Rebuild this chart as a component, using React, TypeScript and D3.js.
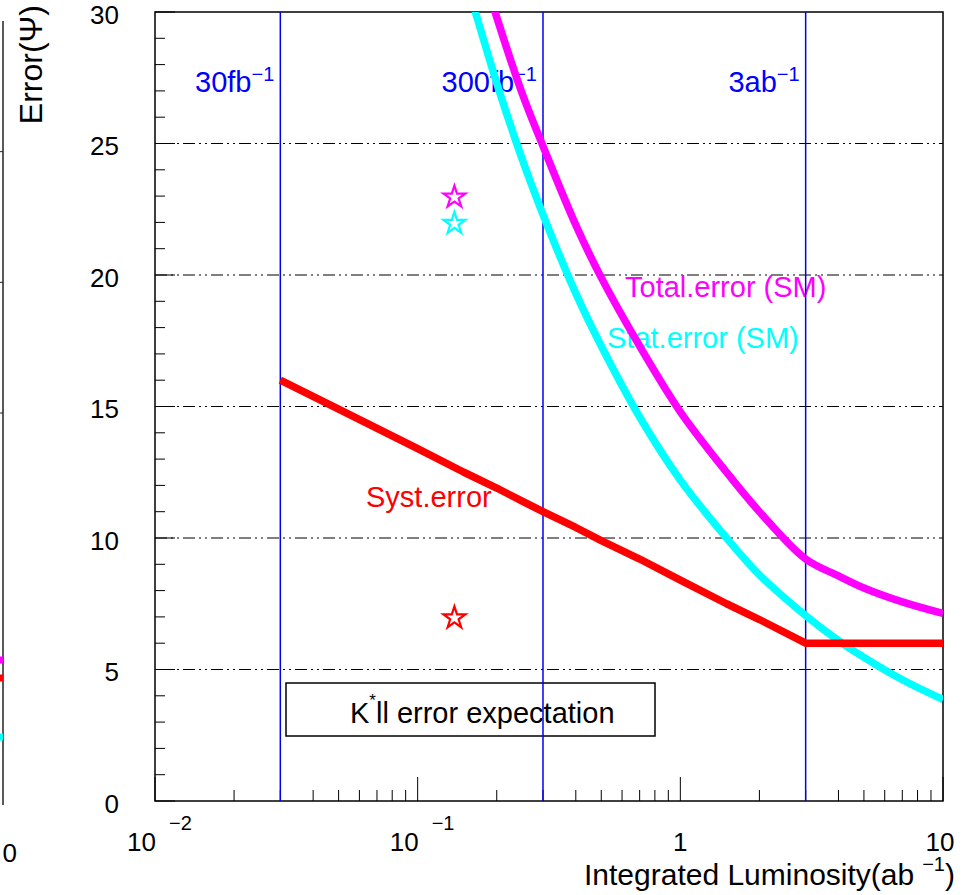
import * as d3 from "d3";

// luminosity points (ab^-1) and errors
const systLumi = [0.03, 0.05, 0.1, 0.15, 0.2, 0.25, 0.3, 0.4, 0.5, 0.7, 1, 1.5, 2, 3, 4, 5, 7, 10];
const systErr = [16, 14.9, 13.4, 12.5, 11.9, 11.4, 11.0, 10.4, 9.9, 9.2, 8.4, 7.5, 6.9, 6.0, 6.0, 6.0, 6.0, 6.0];

const smLumi = [0.15, 0.2, 0.25, 0.3, 0.4, 0.5, 0.7, 1, 1.5, 2, 3, 4, 5, 7, 10];
const statErr = [31.5, 27.3, 24.4, 22.3, 19.3, 17.3, 14.6, 12.2, 10.0, 8.6, 7.05, 6.1, 5.46, 4.61, 3.86];
const totalErr = [33.9, 29.8, 26.9, 24.9, 21.9, 19.9, 17.3, 14.8, 12.5, 11.0, 9.2, 8.56, 8.1, 7.57, 7.13];

// measured points (open stars)
const starLumi = 0.138;
const starValues = [23, 22, 7];
const starColors = ["#ff00ff", "#00ffff", "#ff0000"];

// luminosity milestones
const markLumi = [0.03, 0.3, 3];
const markLabels = ["30fb", "300fb", "3ab"];

const yMajor = [0, 5, 10, 15, 20, 25, 30];
const gridValues = [5, 10, 15, 20, 25];

// stub of the neighbouring panel at the left edge
const leftTicks = [15, 20, 25];
const leftEnds = [5.55, 4.86, 2.6];
const leftColors = ["#ff00ff", "#ff0000", "#00ffff"];

const FONT = "'Liberation Sans', Arial, Helvetica, sans-serif";

export default function App() {
	const W = 974;
	const H = 895;
	const x = d3.scaleLog().domain([0.01, 10]).range([155, 943]);
	const y = d3.scaleLinear().domain([0, 30]).range([801, 12]);
	const yLeft = d3.scaleLinear().domain([0, 30]).range([805, 21]);

	const systLine = d3
		.line<number>()
		.x((_, i) => x(systLumi[i]))
		.y((d) => y(d));
	const smLine = d3
		.line<number>()
		.x((_, i) => x(smLumi[i]))
		.y((d) => y(d))
		.curve(d3.curveCatmullRom.alpha(0.5));

	const minorX: number[] = [];
	[0.01, 0.1, 1].forEach((dec) => {
		for (let k = 2; k <= 9; k++) minorX.push(dec * k);
	});
	const minorY = d3.range(0, 31).filter((v) => v % 5 !== 0);

	const star = d3.symbol().type(d3.symbolStar).size(150)() as string;

	return (
		<svg
			width={W}
			height={H}
			style={{ position: "absolute", left: 0, top: 0, background: "#fff" }}
			fontFamily={FONT}
		>
			<defs>
				<clipPath id="frame">
					<rect x={155} y={12} width={788} height={789} />
				</clipPath>
			</defs>
			<rect width={W} height={H} fill="#fff" />

			{/* left panel remains */}
			<line x1={3} x2={3} y1={yLeft(30)} y2={yLeft(0)} stroke="#222" strokeWidth={1.5} />
			{leftTicks.map((v) => (
				<line key={v} x1={0} x2={3} y1={yLeft(v)} y2={yLeft(v)} stroke="#222" strokeWidth={1} />
			))}
			{leftEnds.map((v, i) => (
				<line key={i} x1={0} x2={3} y1={yLeft(v)} y2={yLeft(v)} stroke={leftColors[i]} strokeWidth={7} />
			))}
			<text x={17} y={862} fontSize={26} textAnchor="end">
				0
			</text>

			{/* grid */}
			{gridValues.map((v) => (
				<line
					key={v}
					x1={155}
					x2={943}
					y1={y(v)}
					y2={y(v)}
					stroke="#000"
					strokeWidth={1}
					strokeDasharray="12,4,2,4,2,4"
				/>
			))}

			{/* frame */}
			<rect x={155} y={12} width={788} height={789} fill="none" stroke="#000" strokeWidth={1.5} />

			{/* y ticks */}
			{yMajor.map((v) => (
				<g key={v}>
					<line x1={155} x2={175} y1={y(v)} y2={y(v)} stroke="#000" strokeWidth={1} />
					<text x={119} y={y(v) + 11.5} fontSize={26} textAnchor="end">
						{v}
					</text>
				</g>
			))}
			{minorY.map((v) => (
				<line key={v} x1={155} x2={165} y1={y(v)} y2={y(v)} stroke="#000" strokeWidth={1} />
			))}

			{/* x ticks */}
			{[0.01, 0.1, 1, 10].map((v) => (
				<line key={v} x1={x(v)} x2={x(v)} y1={801} y2={777} stroke="#000" strokeWidth={1} />
			))}
			{minorX.map((v) => (
				<line key={v} x1={x(v)} x2={x(v)} y1={801} y2={790} stroke="#000" strokeWidth={1} />
			))}
			{[0.01, 0.1].map((v, i) => (
				<g key={v}>
					<text x={x(v) + 1} y={851} fontSize={26} textAnchor="end">
						10
					</text>
					<text x={x(v) + 14} y={830} fontSize={20}>
						{i === 0 ? "\u22122" : "\u22121"}
					</text>
				</g>
			))}
			<text x={x(1)} y={851} fontSize={26} textAnchor="middle">
				1
			</text>
			<text x={x(10) - 3} y={851} fontSize={26} textAnchor="middle">
				10
			</text>

			{/* axis titles */}
			<text x={955} y={885} fontSize={30} textAnchor="end">
				Integrated Luminosity(ab
				<tspan dx={8} dy={-14} fontSize={20}>
					{"\u22121"}
				</tspan>
				<tspan dy={14}>)</tspan>
			</text>
			<text transform="translate(42,5) rotate(-90)" fontSize={32} textAnchor="end">
				Error(Ψ)
			</text>

			{/* legend box */}
			<rect x={286} y={683} width={369} height={53} fill="none" stroke="#000" strokeWidth={1.5} />
			<text x={350} y={723} fontSize={29}>
				K
				<tspan dy={-17} fontSize={17}>
					*
				</tspan>
				<tspan dy={17}>ll error expectation</tspan>
			</text>

			{/* milestone labels */}
			{markLumi.map((v, i) => (
				<text key={v} x={x(v) - 6} y={92} fontSize={29} fill="#0000ff" textAnchor="end">
					{markLabels[i]}
					<tspan dy={-11} fontSize={20}>
						{"\u22121"}
					</tspan>
				</text>
			))}

			{/* curve labels */}
			<text x={625} y={297} fontSize={29} fill="#ff00ff">
				Total.error (SM)
			</text>
			<text x={607} y={348} fontSize={29} fill="#00ffff">
				Stat.error (SM)
			</text>
			<text x={366} y={507} fontSize={29} fill="#ff0000">
				Syst.error
			</text>

			{/* milestone lines */}
			{markLumi.map((v) => (
				<line key={v} x1={x(v)} x2={x(v)} y1={12} y2={801} stroke="#0000ee" strokeWidth={1.5} />
			))}

			{/* curves */}
			<g clipPath="url(#frame)" fill="none" strokeWidth={7.5} strokeLinejoin="round">
				<path d={smLine(statErr) ?? ""} stroke="#00ffff" />
				<path d={smLine(totalErr) ?? ""} stroke="#ff00ff" />
				<path d={systLine(systErr) ?? ""} stroke="#ff0000" />
			</g>

			{/* stars */}
			{starValues.map((v, i) => (
				<path
					key={i}
					d={star}
					transform={`translate(${x(starLumi)},${y(v) + 1})`}
					fill="none"
					stroke={starColors[i]}
					strokeWidth={2.2}
				/>
			))}
		</svg>
	);
}
